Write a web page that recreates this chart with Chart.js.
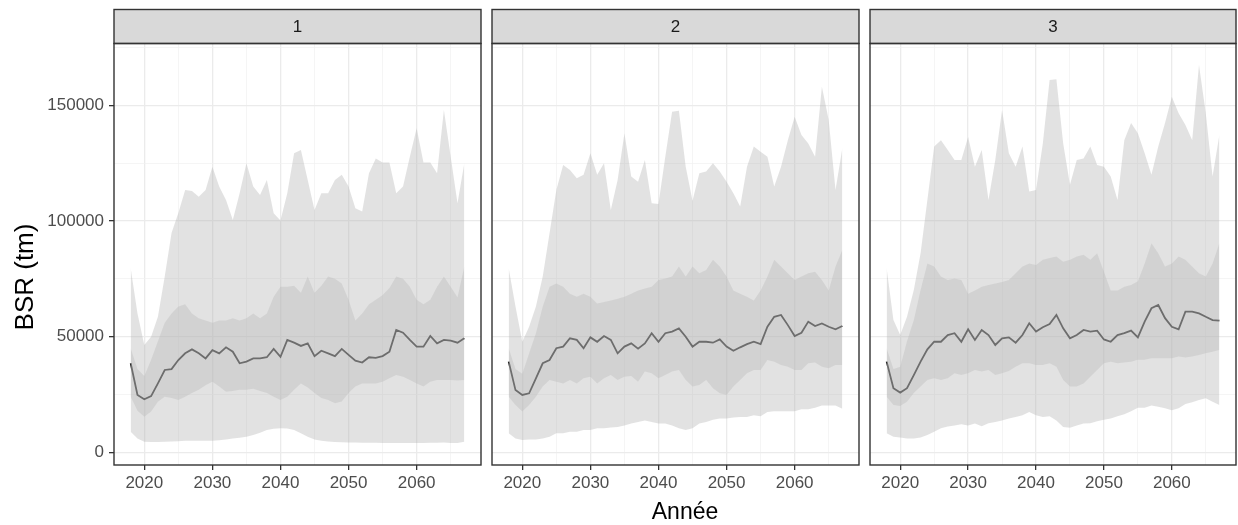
<!DOCTYPE html>
<html>
<head>
<meta charset="utf-8">
<script src="https://cdn.jsdelivr.net/npm/chart.js@4.4.1/dist/chart.umd.min.js"></script>
<style>
  html, body { margin: 0; padding: 0; background: #ffffff; }
  #wrap { position: relative; width: 1238px; height: 525px; }
  #wrap canvas { position: absolute; left: 0; top: 0; }
</style>
</head>
<body>
<div id="wrap">
  <canvas id="panel1" width="1238" height="525"></canvas>
  <canvas id="panel2" width="1238" height="525"></canvas>
  <canvas id="panel3" width="1238" height="525"></canvas>
</div>
<script>
// Projection years
const years = [2018, 2019, 2020, 2021, 2022, 2023, 2024, 2025, 2026, 2027,
               2028, 2029, 2030, 2031, 2032, 2033, 2034, 2035, 2036, 2037,
               2038, 2039, 2040, 2041, 2042, 2043, 2044, 2045, 2046, 2047,
               2048, 2049, 2050, 2051, 2052, 2053, 2054, 2055, 2056, 2057,
               2058, 2059, 2060, 2061, 2062, 2063, 2064, 2065, 2066, 2067];

const panelLabels = ['1', '2', '3'];
const xTickLabels = [2020, 2030, 2040, 2050, 2060];
const yTickLabels = [0, 50000, 100000, 150000];
const xTitle = 'Année';
const yTitle = 'BSR (tm)';

// Scenario 1
const median1 = [38500, 24800, 22900, 24300, 29800, 35600, 36000, 39900, 42800, 44500,
                 42800, 40600, 44200, 42800, 45400, 43500, 38500, 39200, 40600, 40600,
                 41100, 44700, 41300, 48600, 47400, 46000, 47100, 41600, 43900, 42800,
                 41600, 44700, 42100, 39600, 38800, 41100, 40800, 41600, 43500, 52900,
                 51700, 48600, 45700, 45700, 50300, 47100, 48600, 48300, 47400, 49300];
const outerHigh1 = [79600, 60000, 46400, 50000, 58600, 76000, 94800, 103500, 113400, 113000,
                    110500, 113400, 123500, 114900, 109100, 100500, 112000, 125000, 114900, 111300,
                    117800, 103400, 100200, 112000, 129300, 130700, 117800, 104800, 112000, 112000,
                    117800, 120000, 114900, 105500, 104100, 120700, 127100, 125300, 125300, 112000,
                    114900, 127800, 140100, 125300, 125300, 120700, 148000, 127800, 107700, 125000];
const outerLow1 = [8900, 6000, 4600, 4500, 4500, 4600, 4700, 4800, 5000, 5000,
                   5000, 5000, 5000, 5200, 5500, 6000, 6300, 6700, 7500, 8500,
                   9600, 10200, 10400, 10300, 9600, 8200, 6700, 5500, 5000, 4700,
                   4500, 4300, 4200, 4200, 4100, 4100, 4100, 4000, 4000, 4000,
                   4000, 4000, 4000, 4000, 4100, 4100, 4200, 4000, 4000, 4600];
const innerHigh1 = [45000, 36000, 33000, 40000, 48000, 56000, 60000, 63000, 64000, 60000,
                    58000, 57000, 56000, 57000, 57000, 58000, 57000, 58000, 60000, 58000,
                    60000, 67300, 71600, 71600, 72000, 69000, 76000, 69000, 72000, 76000,
                    75000, 73000, 66000, 57000, 60000, 64000, 66000, 68000, 71000, 76000,
                    75000, 71600, 66000, 64000, 66000, 71600, 76000, 71600, 67000, 80300];
const innerLow1 = [24000, 18000, 15400, 17600, 21900, 24000, 23500, 22600, 24000, 25600,
                   27000, 29000, 30500, 28500, 26200, 26500, 27000, 27000, 27500, 26500,
                   25600, 24000, 22600, 24000, 27000, 29800, 28000, 25600, 23500, 22600,
                   21200, 22000, 25600, 28400, 29800, 29800, 29800, 30500, 32000, 33400,
                   32700, 31300, 29800, 28400, 30500, 31300, 31300, 31300, 31000, 31300];

// Scenario 2
const median2 = [39200, 26900, 24800, 25500, 32000, 38500, 39900, 45000, 45700, 49300,
                 48600, 45000, 49700, 47800, 50300, 48600, 42800, 45700, 47100, 44800,
                 47100, 51500, 47800, 51500, 52200, 53600, 50000, 45700, 47800, 47800,
                 47400, 48800, 45700, 43900, 45400, 46800, 47800, 46800, 54300, 58600,
                 59400, 55000, 50300, 51700, 56500, 54600, 55700, 54300, 53200, 54600];
const outerHigh2 = [79600, 63000, 47800, 54300, 63000, 76000, 94700, 113400, 124300, 122100,
                    118500, 120000, 129300, 120000, 125000, 104800, 117800, 138000, 119300, 117000,
                    126400, 107700, 107400, 127800, 147300, 147700, 123500, 108800, 120700, 121400,
                    125000, 121400, 117000, 112000, 106300, 123500, 132200, 130000, 127800, 114900,
                    123500, 135000, 145100, 137200, 133600, 127800, 158100, 143700, 113400, 131500];
const outerLow2 = [8200, 6000, 5300, 5500, 5500, 6000, 6700, 8200, 8200, 8900,
                   8900, 9600, 9600, 10400, 10400, 10700, 10900, 11600, 12400, 13100,
                   13800, 13100, 12400, 12400, 11600, 10400, 9600, 10400, 12400, 13100,
                   14100, 14600, 14600, 15000, 15300, 15300, 16000, 15600, 17400, 17800,
                   17800, 17800, 17800, 18600, 18600, 19300, 20200, 20200, 20200, 18800];
const innerHigh2 = [45000, 36000, 34000, 42800, 51500, 63000, 71600, 73000, 71600, 68600,
                    67300, 68600, 67300, 64300, 65000, 65700, 66400, 67300, 68600, 70000,
                    70800, 71600, 74500, 75200, 76000, 80300, 76000, 80300, 77400, 78800,
                    83300, 80300, 76000, 70000, 68600, 67300, 65700, 70000, 76000, 83300,
                    80300, 77400, 74500, 76000, 77400, 78100, 74500, 70000, 80300, 87500];
const innerLow2 = [24000, 20500, 17600, 20500, 24000, 28400, 31300, 30500, 29800, 31300,
                   29800, 32000, 32700, 29800, 32000, 33400, 31300, 32700, 33000, 30500,
                   34900, 34200, 32000, 33400, 34900, 35600, 31300, 28400, 29100, 31300,
                   27700, 25500, 24800, 28400, 31300, 34200, 35600, 35600, 39900, 39200,
                   37800, 37000, 35600, 35600, 38500, 38800, 37000, 36300, 37800, 37800];

// Scenario 3
const median3 = [39200, 27700, 25800, 27700, 33400, 39200, 44500, 47800, 47800, 50700,
                 51500, 47800, 53200, 48600, 52900, 50700, 46400, 49300, 49700, 47400,
                 50700, 55800, 52200, 54100, 55500, 59400, 53600, 49300, 50700, 52900,
                 52200, 52600, 48800, 47800, 50700, 51500, 52600, 49700, 56500, 62300,
                 63700, 58000, 54300, 53200, 60800, 60800, 60100, 58600, 57200, 56900];
const outerHigh3 = [79600, 57200, 50700, 58600, 70200, 86100, 109100, 132200, 135000, 130700,
                    126400, 126400, 136400, 123500, 130700, 109100, 126400, 148000, 129300, 123500,
                    132200, 112800, 113400, 133600, 161000, 161300, 133600, 115700, 126400, 127100,
                    132200, 124300, 123500, 119300, 109100, 135000, 142400, 138000, 129300, 120000,
                    132200, 142400, 153800, 146600, 141500, 135000, 167500, 146600, 119300, 137200];
const outerLow3 = [8200, 6700, 6400, 6000, 6000, 6400, 7500, 8900, 10400, 11100,
                   11600, 12100, 11600, 12400, 11300, 12600, 13100, 13800, 14600, 15300,
                   16000, 17400, 16000, 15300, 15600, 13800, 10900, 10600, 11600, 12400,
                   12600, 13400, 14100, 14600, 15600, 16400, 17800, 19300, 19300, 20200,
                   19700, 19000, 18200, 19000, 20900, 21600, 22600, 23400, 21900, 20500];
const innerHigh3 = [45000, 36000, 37000, 48000, 57200, 70200, 81700, 80300, 76000, 74500,
                    75200, 74500, 68600, 70000, 71600, 72300, 73000, 73700, 74500, 77400,
                    80300, 81700, 81000, 83300, 84000, 84700, 82400, 83300, 84700, 85400,
                    83300, 86100, 78100, 70000, 70000, 71600, 72300, 74000, 81700, 90400,
                    86100, 80300, 81700, 84700, 83300, 80300, 77400, 76000, 81700, 90400];
const innerLow3 = [24000, 20500, 20000, 21900, 25600, 28400, 31300, 32000, 31300, 32000,
                   34200, 33400, 34200, 35600, 34900, 35600, 33400, 34200, 35200, 37000,
                   38500, 38500, 37800, 37800, 38500, 37000, 31300, 28400, 28400, 29800,
                   32700, 35600, 38500, 39200, 38500, 38800, 39200, 40000, 40000, 40700,
                   40700, 40700, 40700, 41400, 41000, 41400, 42100, 42800, 43500, 44200];

const FONT = '"Liberation Sans", Arial, Helvetica, sans-serif';
const W = 1238, H = 525;
const STRIP_TOP = 9.5;
const PLOT_TOP = 43.5, PLOT_BOTTOM = 465;
const panelBoxes = [
  { left: 114, right: 481 },
  { left: 492, right: 859 },
  { left: 870, right: 1236 }
];

const pts = arr => years.map((yr, i) => ({ x: yr, y: arr[i] }));

const ribbonOuter = 'rgba(175,175,175,0.36)';
const ribbonInner = 'rgba(175,175,175,0.30)';
const gridMajor = '#ebebeb';
const gridMinor = '#f0f0f0';

// Strip header + panel frame
const panelFrame = {
  id: 'panelFrame',
  afterDraw(chart, args, opts) {
    const { ctx, chartArea: a } = chart;
    ctx.save();
    ctx.fillStyle = '#d9d9d9';
    ctx.fillRect(a.left, STRIP_TOP, a.right - a.left, a.top - STRIP_TOP);
    ctx.strokeStyle = '#333333';
    ctx.lineWidth = 1.4;
    ctx.strokeRect(a.left, STRIP_TOP, a.right - a.left, a.top - STRIP_TOP);
    ctx.strokeRect(a.left, a.top, a.right - a.left, a.bottom - a.top);
    ctx.fillStyle = '#1a1a1a';
    ctx.font = '17px ' + FONT;
    ctx.textAlign = 'center';
    ctx.textBaseline = 'middle';
    ctx.fillText(opts.label, (a.left + a.right) / 2, (STRIP_TOP + a.top) / 2 + 1);
    ctx.restore();
  }
};

// Shared axis titles
const axisTitles = {
  id: 'axisTitles',
  afterDraw(chart, args, opts) {
    const ctx = chart.ctx;
    ctx.save();
    ctx.fillStyle = '#000000';
    if (opts.y) {
      ctx.font = '26px ' + FONT;
      ctx.translate(33, 277);
      ctx.rotate(-Math.PI / 2);
      ctx.textAlign = 'center';
      ctx.textBaseline = 'alphabetic';
      ctx.fillText(yTitle, 0, 0);
      ctx.setTransform(1, 0, 0, 1, 0, 0);
    }
    if (opts.x) {
      ctx.font = '23px ' + FONT;
      ctx.textAlign = 'center';
      ctx.textBaseline = 'alphabetic';
      ctx.fillText(xTitle, 685, 519);
    }
    ctx.restore();
  }
};

function makePanel(id, idx, series, showY, titles) {
  const box = panelBoxes[idx];
  const [med, oLo, oHi, iLo, iHi] = series;
  return new Chart(document.getElementById(id), {
    type: 'line',
    data: {
      datasets: [
        { data: pts(oLo), borderWidth: 0, pointRadius: 0, fill: false, backgroundColor: ribbonOuter },
        { data: pts(oHi), borderWidth: 0, pointRadius: 0, fill: '-1', backgroundColor: ribbonOuter },
        { data: pts(iLo), borderWidth: 0, pointRadius: 0, fill: false, backgroundColor: ribbonInner },
        { data: pts(iHi), borderWidth: 0, pointRadius: 0, fill: '-1', backgroundColor: ribbonInner },
        { data: pts(med), borderColor: '#1c1c1c', borderWidth: 1.8, pointRadius: 0, fill: false, tension: 0 }
      ]
    },
    options: {
      responsive: false,
      animation: false,
      devicePixelRatio: 1,
      events: [],
      layout: {
        padding: { left: showY ? 0 : box.left, right: W - box.right, top: PLOT_TOP, bottom: 0 }
      },
      plugins: {
        legend: { display: false },
        tooltip: { enabled: false },
        panelFrame: { label: panelLabels[idx] },
        axisTitles: titles
      },
      scales: {
        x: {
          type: 'linear',
          min: 2015.55,
          max: 2069.45,
          afterBuildTicks: s => {
            s.ticks = [2020, 2025, 2030, 2035, 2040, 2045, 2050, 2055, 2060, 2065].map(v => ({ value: v }));
          },
          afterFit: s => { s.height = H - PLOT_BOTTOM; },
          border: { display: false },
          grid: {
            color: c => (c.tick && xTickLabels.includes(c.tick.value)) ? gridMajor : gridMinor,
            lineWidth: c => (c.tick && xTickLabels.includes(c.tick.value)) ? 1.3 : 0.7,
            tickColor: c => (c.tick && xTickLabels.includes(c.tick.value)) ? '#333333' : 'rgba(0,0,0,0)',
            tickWidth: 1.3,
            tickLength: 5,
            drawTicks: true
          },
          ticks: {
            color: '#4d4d4d',
            font: { family: FONT, size: 17 },
            padding: 3,
            maxRotation: 0,
            autoSkip: false,
            callback: v => xTickLabels.includes(v) ? String(v) : ''
          }
        },
        y: {
          type: 'linear',
          min: -5500,
          max: 176800,
          afterBuildTicks: s => {
            s.ticks = [0, 25000, 50000, 75000, 100000, 125000, 150000, 175000].map(v => ({ value: v }));
          },
          afterFit: s => { s.width = showY ? box.left : 0; },
          border: { display: false },
          grid: {
            color: c => (c.tick && yTickLabels.includes(c.tick.value)) ? gridMajor : gridMinor,
            lineWidth: c => (c.tick && yTickLabels.includes(c.tick.value)) ? 1.3 : 0.7,
            tickColor: c => (c.tick && yTickLabels.includes(c.tick.value)) ? '#333333' : 'rgba(0,0,0,0)',
            tickWidth: 1.3,
            tickLength: 5,
            drawTicks: showY
          },
          ticks: {
            display: showY,
            color: '#4d4d4d',
            font: { family: FONT, size: 17 },
            padding: 5,
            autoSkip: false,
            callback: v => yTickLabels.includes(v) ? String(v) : ''
          }
        }
      }
    },
    plugins: [panelFrame, axisTitles]
  });
}

makePanel('panel1', 0, [median1, outerLow1, outerHigh1, innerLow1, innerHigh1], true, { y: true, x: false });
makePanel('panel2', 1, [median2, outerLow2, outerHigh2, innerLow2, innerHigh2], false, { y: false, x: true });
makePanel('panel3', 2, [median3, outerLow3, outerHigh3, innerLow3, innerHigh3], false, { y: false, x: false });
</script>
</body>
</html>
